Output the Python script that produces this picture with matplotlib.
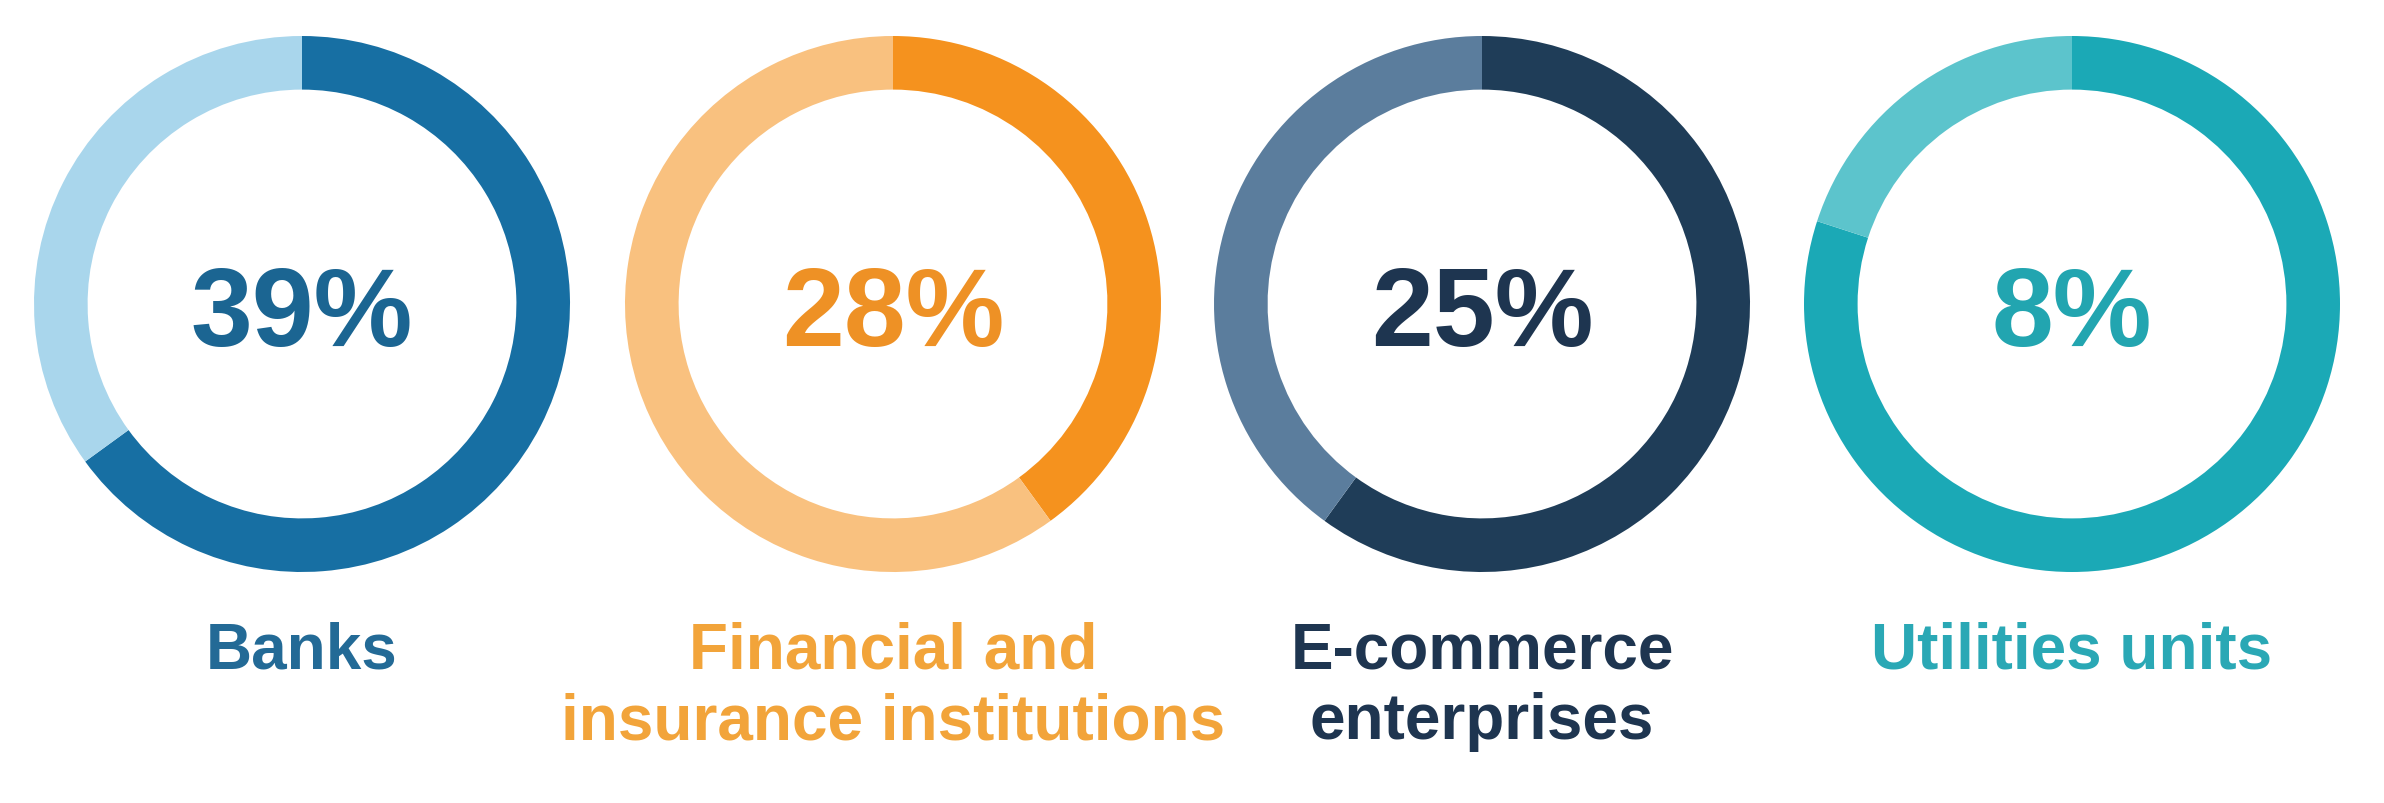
"""Four donut rings with a share in the middle and a label underneath."""

import matplotlib

matplotlib.use("Agg")
import matplotlib.pyplot as plt

plt.rcParams["font.family"] = ["Liberation Sans", "DejaVu Sans"]

# --- data ---
labels = ["Banks", "Financial and\ninsurance institutions",
          "E-commerce\nenterprises", "Utilities units"]
shares = ["39%", "28%", "25%", "8%"]
dark_part = [0.65, 0.40, 0.60, 0.80]  # clockwise from 12 o'clock
light_part = [0.35, 0.60, 0.40, 0.20]

dark_colors = ["#176fa3", "#f5921e", "#1f3d58", "#1ba9b6"]
light_colors = ["#a9d6ec", "#f9c17f", "#5b7d9d", "#5cc4cc"]
text_colors = ["#1b6592", "#ee9125", "#1e3550", "#22a5b0"]
label_colors = ["#236a96", "#f2a43a", "#1e3550", "#2aa8b5"]

# --- layout in pixels of the 2384x804 canvas ---
W, H = 2384, 804
centers_x = [302, 893, 1482, 2072]
center_y = 305
radius = 268

fig = plt.figure(figsize=(W / 100, H / 100), dpi=100)

for i in range(4):
    cx = centers_x[i]
    ax = fig.add_axes([(cx - radius) / W, 1 - (center_y + radius) / H,
                       2 * radius / W, 2 * radius / H])
    ax.pie([dark_part[i], light_part[i]],
           colors=[dark_colors[i], light_colors[i]],
           startangle=90, counterclock=False, radius=1,
           wedgeprops=dict(width=0.2, linewidth=0))
    ax.set_xlim(-1, 1)
    ax.set_ylim(-1, 1)
    ax.set_aspect("equal")
    ax.axis("off")

    # number sits with its baseline a bit below the ring centre
    ax.text(0, -0.153, shares[i], ha="center", va="baseline",
            fontsize=80, fontweight="bold", color=text_colors[i])

    # labels hang from a common top line under the rings
    fig.text(cx / W, 1 - 622 / H, labels[i], ha="center", va="top",
             multialignment="center", fontsize=46, fontweight="bold",
             color=label_colors[i], linespacing=1.22)

fig.savefig("out.png", dpi=100, facecolor="white")
